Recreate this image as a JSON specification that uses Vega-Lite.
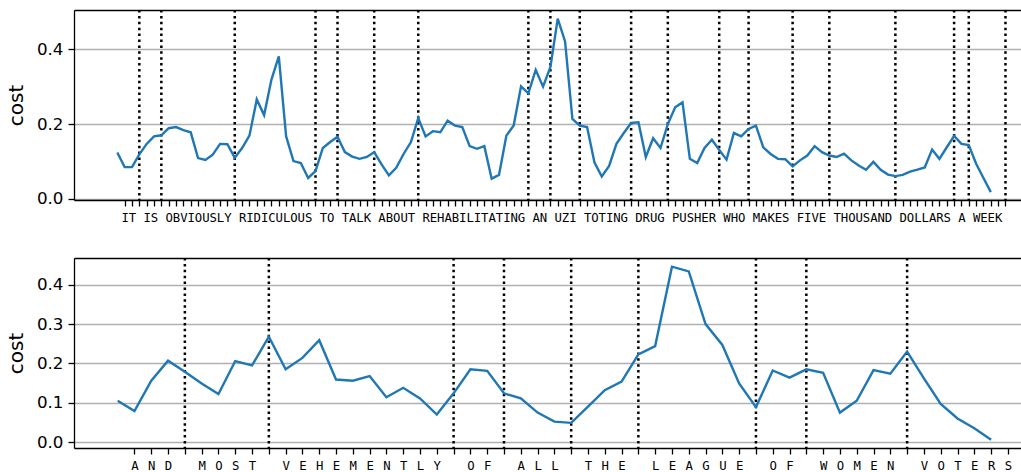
{
  "$schema": "https://vega.github.io/schema/vega-lite/v6.json",
  "padding": {"left": 6, "top": 8, "right": 0, "bottom": 0},
  "config": {
    "view": {"stroke": null},
    "axis": {"domainColor": "black", "tickColor": "black", "labelColor": "black", "titleColor": "black", "domainWidth": 1.3, "tickWidth": 1.3, "gridColor": "#b0b0b0", "gridWidth": 1.3, "labelFont": "DejaVu Sans", "titleFont": "DejaVu Sans", "titleFontWeight": "normal"}
  },
  "datasets": {
    "top_cost": [
      {"idx": -1, "cost": 0.124}, {"idx": 0, "cost": 0.085}, {"idx": 1, "cost": 0.085}, {"idx": 2, "cost": 0.119}, {"idx": 3, "cost": 0.147}, {"idx": 4, "cost": 0.167}, {"idx": 5, "cost": 0.170}, {"idx": 6, "cost": 0.189}, {"idx": 7, "cost": 0.192}, {"idx": 8, "cost": 0.184}, {"idx": 9, "cost": 0.178},
      {"idx": 10, "cost": 0.109}, {"idx": 11, "cost": 0.104}, {"idx": 12, "cost": 0.118}, {"idx": 13, "cost": 0.147}, {"idx": 14, "cost": 0.146}, {"idx": 15, "cost": 0.110}, {"idx": 16, "cost": 0.136}, {"idx": 17, "cost": 0.169}, {"idx": 18, "cost": 0.266}, {"idx": 19, "cost": 0.224},
      {"idx": 20, "cost": 0.319}, {"idx": 21, "cost": 0.381}, {"idx": 22, "cost": 0.167}, {"idx": 23, "cost": 0.101}, {"idx": 24, "cost": 0.096}, {"idx": 25, "cost": 0.056}, {"idx": 26, "cost": 0.074}, {"idx": 27, "cost": 0.136}, {"idx": 28, "cost": 0.152}, {"idx": 29, "cost": 0.166},
      {"idx": 30, "cost": 0.125}, {"idx": 31, "cost": 0.113}, {"idx": 32, "cost": 0.107}, {"idx": 33, "cost": 0.112}, {"idx": 34, "cost": 0.125}, {"idx": 35, "cost": 0.092}, {"idx": 36, "cost": 0.063}, {"idx": 37, "cost": 0.083}, {"idx": 38, "cost": 0.120}, {"idx": 39, "cost": 0.152},
      {"idx": 40, "cost": 0.216}, {"idx": 41, "cost": 0.167}, {"idx": 42, "cost": 0.181}, {"idx": 43, "cost": 0.178}, {"idx": 44, "cost": 0.209}, {"idx": 45, "cost": 0.196}, {"idx": 46, "cost": 0.192}, {"idx": 47, "cost": 0.141}, {"idx": 48, "cost": 0.134}, {"idx": 49, "cost": 0.141},
      {"idx": 50, "cost": 0.054}, {"idx": 51, "cost": 0.064}, {"idx": 52, "cost": 0.169}, {"idx": 53, "cost": 0.196}, {"idx": 54, "cost": 0.301}, {"idx": 55, "cost": 0.282}, {"idx": 56, "cost": 0.345}, {"idx": 57, "cost": 0.300}, {"idx": 58, "cost": 0.352}, {"idx": 59, "cost": 0.482},
      {"idx": 60, "cost": 0.421}, {"idx": 61, "cost": 0.214}, {"idx": 62, "cost": 0.196}, {"idx": 63, "cost": 0.192}, {"idx": 64, "cost": 0.098}, {"idx": 65, "cost": 0.060}, {"idx": 66, "cost": 0.088}, {"idx": 67, "cost": 0.147}, {"idx": 68, "cost": 0.176}, {"idx": 69, "cost": 0.203},
      {"idx": 70, "cost": 0.205}, {"idx": 71, "cost": 0.112}, {"idx": 72, "cost": 0.162}, {"idx": 73, "cost": 0.136}, {"idx": 74, "cost": 0.200}, {"idx": 75, "cost": 0.245}, {"idx": 76, "cost": 0.258}, {"idx": 77, "cost": 0.107}, {"idx": 78, "cost": 0.096}, {"idx": 79, "cost": 0.136},
      {"idx": 80, "cost": 0.158}, {"idx": 81, "cost": 0.131}, {"idx": 82, "cost": 0.105}, {"idx": 83, "cost": 0.176}, {"idx": 84, "cost": 0.167}, {"idx": 85, "cost": 0.187}, {"idx": 86, "cost": 0.196}, {"idx": 87, "cost": 0.138}, {"idx": 88, "cost": 0.120}, {"idx": 89, "cost": 0.107},
      {"idx": 90, "cost": 0.106}, {"idx": 91, "cost": 0.087}, {"idx": 92, "cost": 0.103}, {"idx": 93, "cost": 0.116}, {"idx": 94, "cost": 0.141}, {"idx": 95, "cost": 0.125}, {"idx": 96, "cost": 0.116}, {"idx": 97, "cost": 0.112}, {"idx": 98, "cost": 0.121}, {"idx": 99, "cost": 0.103},
      {"idx": 100, "cost": 0.089}, {"idx": 101, "cost": 0.078}, {"idx": 102, "cost": 0.099}, {"idx": 103, "cost": 0.078}, {"idx": 104, "cost": 0.065}, {"idx": 105, "cost": 0.061}, {"idx": 106, "cost": 0.064}, {"idx": 107, "cost": 0.073}, {"idx": 108, "cost": 0.078}, {"idx": 109, "cost": 0.084},
      {"idx": 110, "cost": 0.132}, {"idx": 111, "cost": 0.107}, {"idx": 112, "cost": 0.138}, {"idx": 113, "cost": 0.168}, {"idx": 114, "cost": 0.147}, {"idx": 115, "cost": 0.144}, {"idx": 116, "cost": 0.094}, {"idx": 117, "cost": 0.056}, {"idx": 118, "cost": 0.018}
    ],
    "top_spaces": [
      {"idx": 2}, {"idx": 5}, {"idx": 15}, {"idx": 26}, {"idx": 29}, {"idx": 34}, {"idx": 40}, {"idx": 55}, {"idx": 58}, {"idx": 62}, {"idx": 69}, {"idx": 74}, {"idx": 81}, {"idx": 85}, {"idx": 91}, {"idx": 96}, {"idx": 105}, {"idx": 113}, {"idx": 115}, {"idx": 120}
    ],
    "bottom_cost": [
      {"idx": -1, "cost": 0.105}, {"idx": 0, "cost": 0.079}, {"idx": 1, "cost": 0.156}, {"idx": 2, "cost": 0.207}, {"idx": 3, "cost": 0.179}, {"idx": 4, "cost": 0.149}, {"idx": 5, "cost": 0.122}, {"idx": 6, "cost": 0.206}, {"idx": 7, "cost": 0.195}, {"idx": 8, "cost": 0.268}, {"idx": 9, "cost": 0.185},
      {"idx": 10, "cost": 0.214}, {"idx": 11, "cost": 0.259}, {"idx": 12, "cost": 0.159}, {"idx": 13, "cost": 0.156}, {"idx": 14, "cost": 0.168}, {"idx": 15, "cost": 0.114}, {"idx": 16, "cost": 0.138}, {"idx": 17, "cost": 0.111}, {"idx": 18, "cost": 0.070}, {"idx": 19, "cost": 0.124},
      {"idx": 20, "cost": 0.185}, {"idx": 21, "cost": 0.181}, {"idx": 22, "cost": 0.124}, {"idx": 23, "cost": 0.111}, {"idx": 24, "cost": 0.075}, {"idx": 25, "cost": 0.052}, {"idx": 26, "cost": 0.049}, {"idx": 27, "cost": 0.090}, {"idx": 28, "cost": 0.132}, {"idx": 29, "cost": 0.154},
      {"idx": 30, "cost": 0.223}, {"idx": 31, "cost": 0.244}, {"idx": 32, "cost": 0.446}, {"idx": 33, "cost": 0.434}, {"idx": 34, "cost": 0.300}, {"idx": 35, "cost": 0.247}, {"idx": 36, "cost": 0.149}, {"idx": 37, "cost": 0.089}, {"idx": 38, "cost": 0.182}, {"idx": 39, "cost": 0.164},
      {"idx": 40, "cost": 0.185}, {"idx": 41, "cost": 0.176}, {"idx": 42, "cost": 0.075}, {"idx": 43, "cost": 0.105}, {"idx": 44, "cost": 0.183}, {"idx": 45, "cost": 0.174}, {"idx": 46, "cost": 0.230}, {"idx": 47, "cost": 0.162}, {"idx": 48, "cost": 0.097}, {"idx": 49, "cost": 0.060},
      {"idx": 50, "cost": 0.035}, {"idx": 51, "cost": 0.006}
    ],
    "bottom_spaces": [
      {"idx": 3}, {"idx": 8}, {"idx": 19}, {"idx": 22}, {"idx": 26}, {"idx": 30}, {"idx": 37}, {"idx": 40}, {"idx": 46}
    ]
  },
  "spacing": 58,
  "bounds": "flush",
  "vconcat": [
    {
      "width": 948,
      "height": 190,
      "layer": [
        {
          "data": {"name": "top_spaces"},
          "mark": {"type": "rule", "color": "black", "strokeWidth": 2.5, "strokeDash": [2.5, 3.4]},
          "encoding": {
            "x": {"field": "idx", "type": "quantitative", "scale": {"domain": [-6.9, 122.25], "nice": false, "zero": false},
                  "axis": {"orient": "top", "labels": false, "ticks": false, "grid": false, "title": null, "domain": true}}
          }
        },
        {
          "data": {"name": "top_cost"},
          "mark": {"type": "line", "color": "#1f77b4", "strokeWidth": 2.4},
          "encoding": {
            "x": {"field": "idx", "type": "quantitative", "scale": {"domain": [-6.9, 122.25], "nice": false, "zero": false},
                  "axis": {"orient": "bottom", "title": null, "grid": false,
                           "values": [0,1,2,3,4,5,6,7,8,9,10,11,12,13,14,15,16,17,18,19,20,21,22,23,24,25,26,27,28,29,30,31,32,33,34,35,36,37,38,39,40,41,42,43,44,45,46,47,48,49,50,51,52,53,54,55,56,57,58,59,60,61,62,63,64,65,66,67,68,69,70,71,72,73,74,75,76,77,78,79,80,81,82,83,84,85,86,87,88,89,90,91,92,93,94,95,96,97,98,99,100,101,102,103,104,105,106,107,108,109,110,111,112,113,114,115,116,117,118,119,120],
                           "labelExpr": "substring('IT IS OBVIOUSLY RIDICULOUS TO TALK ABOUT REHABILITATING AN UZI TOTING DRUG PUSHER WHO MAKES FIVE THOUSAND DOLLARS A WEEK ', datum.value, datum.value + 1)",
                           "labelFont": "DejaVu Sans Mono", "labelFontSize": 12.3, "labelOverlap": false, "labelFlush": false, "labelBound": false, "labelAngle": 0,
                           "tickSize": 6, "labelPadding": 5}},
            "y": {"field": "cost", "type": "quantitative", "scale": {"domain": [-0.003, 0.505], "nice": false, "zero": false},
                  "axis": {"values": [0, 0.2, 0.4], "format": ".1f", "title": "cost", "labelFontSize": 16.7, "titleFontSize": 20, "tickSize": 6, "labelPadding": 5, "titlePadding": 9.5, "grid": true}}
          }
        }
      ],
      "resolve": {"axis": {"x": "independent"}}
    },
    {
      "width": 948,
      "height": 190,
      "layer": [
        {
          "data": {"name": "bottom_spaces"},
          "mark": {"type": "rule", "color": "black", "strokeWidth": 2.5, "strokeDash": [2.5, 3.4]},
          "encoding": {
            "x": {"field": "idx", "type": "quantitative", "scale": {"domain": [-3.6, 52.84], "nice": false, "zero": false},
                  "axis": {"orient": "top", "labels": false, "ticks": false, "grid": false, "title": null, "domain": true}}
          }
        },
        {
          "data": {"name": "bottom_cost"},
          "mark": {"type": "line", "color": "#1f77b4", "strokeWidth": 2.4},
          "encoding": {
            "x": {"field": "idx", "type": "quantitative", "scale": {"domain": [-3.6, 52.84], "nice": false, "zero": false},
                  "axis": {"orient": "bottom", "title": null, "grid": false,
                           "values": [0,1,2,3,4,5,6,7,8,9,10,11,12,13,14,15,16,17,18,19,20,21,22,23,24,25,26,27,28,29,30,31,32,33,34,35,36,37,38,39,40,41,42,43,44,45,46,47,48,49,50,51,52],
                           "labelExpr": "substring('AND MOST VEHEMENTLY OF ALL THE LEAGUE OF WOMEN VOTERS ', datum.value, datum.value + 1)",
                           "labelFont": "DejaVu Sans Mono", "labelFontSize": 12.3, "labelOverlap": false, "labelFlush": false, "labelBound": false, "labelAngle": 0,
                           "tickSize": 6, "labelPadding": 5}},
            "y": {"field": "cost", "type": "quantitative", "scale": {"domain": [-0.015, 0.468], "nice": false, "zero": false},
                  "axis": {"values": [0, 0.1, 0.2, 0.3, 0.4], "format": ".1f", "title": "cost", "labelFontSize": 16.7, "titleFontSize": 20, "tickSize": 6, "labelPadding": 5, "titlePadding": 9.5, "grid": true}}
          }
        }
      ],
      "resolve": {"axis": {"x": "independent"}}
    }
  ]
}
